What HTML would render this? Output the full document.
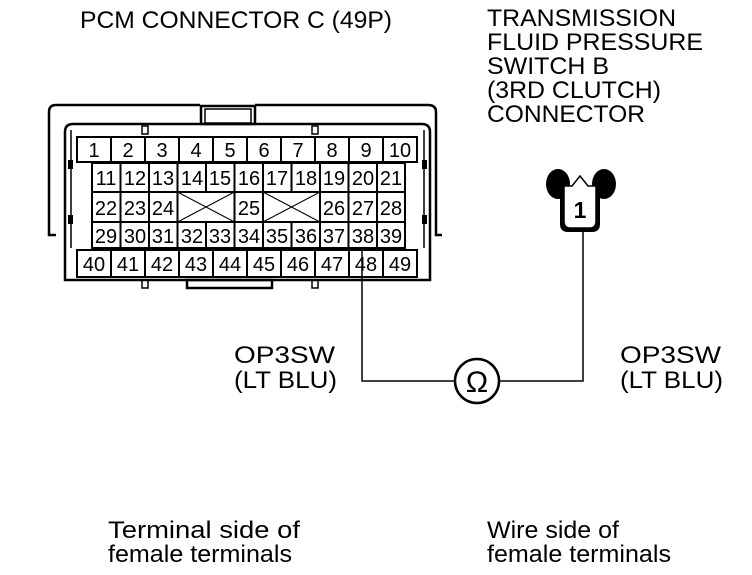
<!DOCTYPE html>
<html><head><style>
body{margin:0;background:#fff;}
svg text{font-family:"Liberation Sans",Arial,sans-serif;fill:#000;}
</style></head><body>
<svg width="752" height="570" viewBox="0 0 752 570" xmlns="http://www.w3.org/2000/svg">
<g font-size="24">
<text x="80" y="28" textLength="312" lengthAdjust="spacingAndGlyphs">PCM CONNECTOR C (49P)</text>
<text x="487" y="26" textLength="189" lengthAdjust="spacingAndGlyphs">TRANSMISSION</text>
<text x="487" y="50" textLength="216" lengthAdjust="spacingAndGlyphs">FLUID PRESSURE</text>
<text x="487" y="74" textLength="122" lengthAdjust="spacingAndGlyphs">SWITCH B</text>
<text x="487" y="98" textLength="174" lengthAdjust="spacingAndGlyphs">(3RD CLUTCH)</text>
<text x="487" y="122" textLength="158" lengthAdjust="spacingAndGlyphs">CONNECTOR</text>
<text x="234" y="363" textLength="101" lengthAdjust="spacingAndGlyphs">OP3SW</text>
<text x="234" y="388" textLength="103" lengthAdjust="spacingAndGlyphs">(LT BLU)</text>
<text x="620" y="363" textLength="101" lengthAdjust="spacingAndGlyphs">OP3SW</text>
<text x="620" y="388" textLength="103" lengthAdjust="spacingAndGlyphs">(LT BLU)</text>
<text x="108" y="538" textLength="192" lengthAdjust="spacingAndGlyphs">Terminal side of</text>
<text x="108" y="562" textLength="184" lengthAdjust="spacingAndGlyphs">female terminals</text>
<text x="487" y="538" textLength="132" lengthAdjust="spacingAndGlyphs">Wire side of</text>
<text x="487" y="562" textLength="184" lengthAdjust="spacingAndGlyphs">female terminals</text>
</g>
<g fill="none" stroke="#000" stroke-width="2.5">
<path d="M56 235 L49 235 L49 112 Q49 105 56 105 L200 105 M255 105 L428 105 Q436 105 436 112 L436 235 L442 235"/>
<rect x="201" y="106" width="54" height="18"/>
<rect x="205" y="109" width="46" height="14" stroke-width="1.5"/>
<path d="M65 250 L65 132 Q65 124 73 124 L422 124 Q430 124 430 132 L430 280 L65 280 L65 250"/>
<path d="M71 248 L71 130 M424 130 L424 248" stroke-width="1.5"/>
<rect x="187" y="280" width="85" height="8"/>
<rect x="142" y="126" width="6" height="8" stroke-width="1.5"/>
<rect x="312" y="126" width="6" height="8" stroke-width="1.5"/>
<rect x="142" y="280" width="6" height="8" stroke-width="1.5"/>
<rect x="312" y="280" width="6" height="8" stroke-width="1.5"/>
</g>
<g fill="#000">
<rect x="68" y="160" width="5" height="9"/><rect x="422" y="160" width="5" height="9"/>
<rect x="68" y="215" width="5" height="9"/><rect x="422" y="215" width="5" height="9"/>
</g>
<g fill="none" stroke="#000" stroke-width="2">
<rect x="77" y="137" width="340" height="25"/>
<path d="M111 137V162M145 137V162M179 137V162M213 137V162M247 137V162M281 137V162M315 137V162M349 137V162M383 137V162"/>
<rect x="92" y="163" width="313" height="85"/>
<path d="M92 192H405M92 222H405"/>
<path d="M120.5 163V192M149 163V192M177.5 163V192M206 163V192M234.5 163V192M263 163V192M291.5 163V192M320 163V192M348.5 163V192M377 163V192"/>
<path d="M120.5 192V222M149 192V222M177.5 192V222M234.5 192V222M263 192V222M320 192V222M348.5 192V222M377 192V222"/>
<path d="M120.5 222V248M149 222V248M177.5 222V248M206 222V248M234.5 222V248M263 222V248M291.5 222V248M320 222V248M348.5 222V248M377 222V248"/>
<path d="M177.5 192L234.5 222M177.5 222L234.5 192M263 192L320 222M263 222L320 192" stroke-width="1"/>
<rect x="77" y="250" width="340" height="27"/>
<path d="M111 250V277M145 250V277M179 250V277M213 250V277M247 250V277M281 250V277M315 250V277M349 250V277M383 250V277"/>
</g>
<g font-size="20" text-anchor="middle">
<text x="94" y="157">1</text><text x="128" y="157">2</text><text x="162" y="157">3</text><text x="196" y="157">4</text><text x="230" y="157">5</text><text x="264" y="157">6</text><text x="298" y="157">7</text><text x="332" y="157">8</text><text x="366" y="157">9</text><text x="400" y="157">10</text>
<g textLength="25" lengthAdjust="spacingAndGlyphs">
<text x="106" y="185">11</text><text x="135" y="185">12</text><text x="163" y="185">13</text><text x="192" y="185">14</text><text x="220" y="185">15</text><text x="249" y="185">16</text><text x="277" y="185">17</text><text x="306" y="185">18</text><text x="334" y="185">19</text><text x="363" y="185">20</text><text x="391" y="185">21</text>
<text x="106" y="215">22</text><text x="135" y="215">23</text><text x="163" y="215">24</text><text x="249" y="215">25</text><text x="334" y="215">26</text><text x="363" y="215">27</text><text x="391" y="215">28</text>
<text x="106" y="243">29</text><text x="135" y="243">30</text><text x="163" y="243">31</text><text x="192" y="243">32</text><text x="220" y="243">33</text><text x="249" y="243">34</text><text x="277" y="243">35</text><text x="306" y="243">36</text><text x="334" y="243">37</text><text x="363" y="243">38</text><text x="391" y="243">39</text>
</g>
<text x="94" y="271">40</text><text x="128" y="271">41</text><text x="162" y="271">42</text><text x="196" y="271">43</text><text x="230" y="271">44</text><text x="264" y="271">45</text><text x="298" y="271">46</text><text x="332" y="271">47</text><text x="366" y="271">48</text><text x="400" y="271">49</text>
</g>
<g fill="none" stroke="#000">
<path d="M362 250V381H455M499 381H583V218" stroke-width="1.5"/>
<circle cx="477" cy="381" r="22" stroke-width="2.5" fill="#fff"/>
</g>
<text x="477" y="392" font-size="30" text-anchor="middle" font-family="DejaVu Sans,sans-serif">Ω</text>
<g>
<ellipse cx="558" cy="184" rx="12" ry="15" fill="#000"/>
<ellipse cx="604" cy="184" rx="12" ry="15" fill="#000"/>
<path d="M560 190 L560 224 Q560 232 568 232 L592 232 Q600 232 600 224 L600 190 Z" fill="#000"/>
<path d="M564 186 L572 186 L580 176 L588 186 L596 186 L596 221 Q596 228 590 228 L570 228 Q564 228 564 221 Z" fill="#fff" stroke="#000" stroke-width="1.5"/>
<text x="580" y="218" font-size="23" text-anchor="middle" font-weight="bold">1</text>
</g>
</svg>
</body></html>
